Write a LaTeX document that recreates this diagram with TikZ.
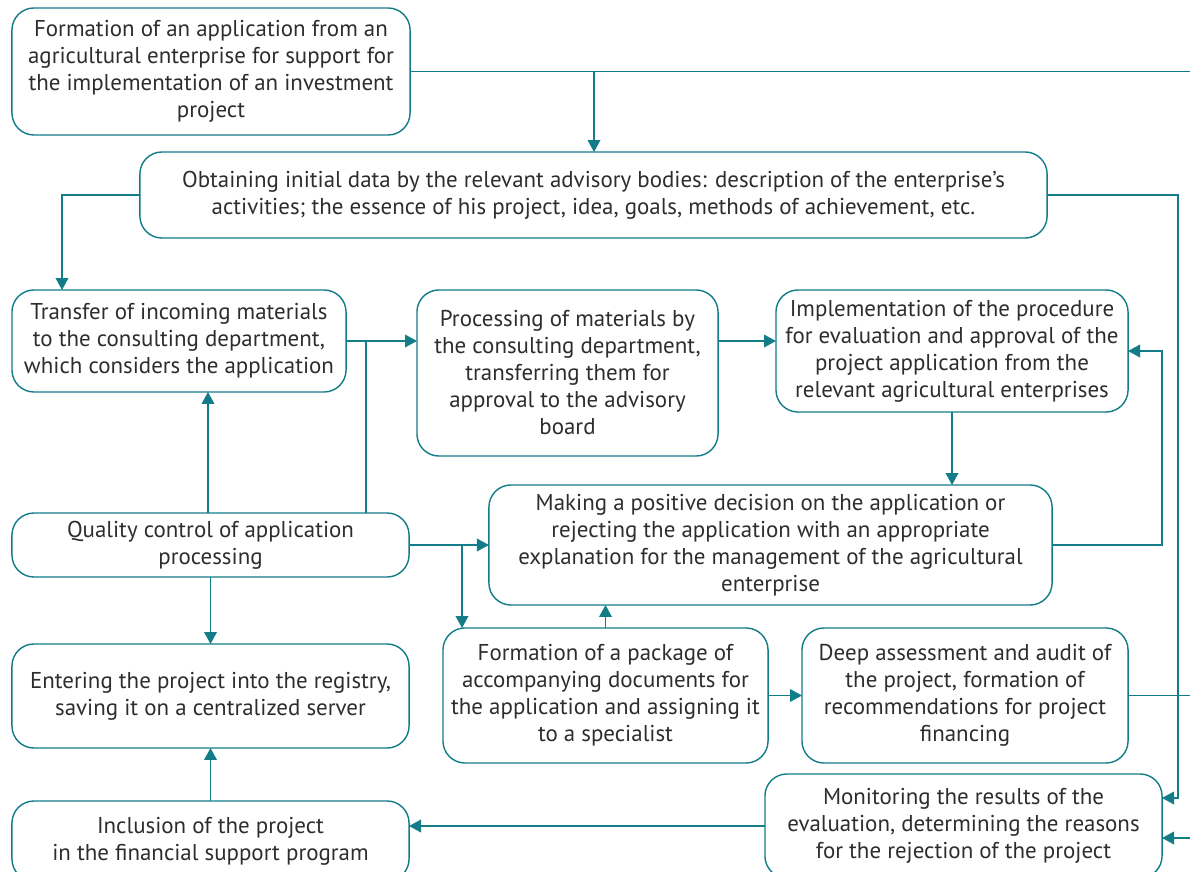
\documentclass[tikz,border=0pt]{standalone}
\usepackage{fontspec}
\setmainfont{PT Sans}
\usepackage{xcolor}
\usepackage{tikz}
\usetikzlibrary{arrows.meta, positioning, calc}

\definecolor{flowteal}{RGB}{18,124,136}
\definecolor{flowtext}{RGB}{45,45,45}

\tikzset{
    box/.style={draw=flowteal, line width=1pt, rounded corners=0.55cm, align=center,
        inner sep=2pt, outer sep=0pt, text=flowtext, font=\fontsize{16.3}{19.2}\selectfont},
    link/.style={draw=flowteal, line width=1pt},
    arr/.style={link, -{Triangle[length=8.5pt,width=9pt]}}
}

\begin{document}
\begin{tikzpicture}[x=0.025cm, y=-0.025cm]
    \useasboundingbox (0,0) rectangle (1190,872);
    \clip (0,0) rectangle (1190,872);

    % Boxes
    \node[box, minimum width=9.95cm, minimum height=3.175cm] (form) at (211,71.5)
        {Formation of an application from an\\agricultural enterprise for support for\\the implementation of an investment\\project};
    \node[box, minimum width=22.675cm, minimum height=2.15cm] (data) at (593.5,195)
        {Obtaining initial data by the relevant advisory bodies: description of the enterprise's\\activities; the essence of his project, idea, goals, methods of achievement, etc.};
    \node[box, minimum width=8.35cm, minimum height=2.55cm] (transfer) at (179,341)
        {Transfer of incoming materials\\to the consulting department,\\which considers the application};
    \node[box, minimum width=7.525cm, minimum height=4.15cm] (process) at (567.5,373)
        {Processing of materials by\\the consulting department,\\transferring them for\\approval to the advisory\\board};
    \node[box, minimum width=8.8cm, minimum height=3.05cm] (approve) at (952,351)
        {Implementation of the procedure\\for evaluation and approval of the\\project application from the\\relevant agricultural enterprises};
    \node[box, minimum width=9.925cm, minimum height=1.6cm] (quality) at (210.5,545)
        {Quality control of application\\processing};
    \node[box, minimum width=14.075cm, minimum height=3cm] (decide) at (770.5,545)
        {Making a positive decision on the application or\\rejecting the application with an appropriate\\explanation for the management of the agricultural\\enterprise};
    \node[box, minimum width=9.925cm, minimum height=2.6cm] (registry) at (210.5,696)
        {Entering the project into the registry,\\saving it on a centralized server};
    \node[box, minimum width=8.125cm, minimum height=3.375cm] (package) at (605.5,695.5)
        {Formation of a package of\\accompanying documents for\\the application and assigning it\\to a specialist};
    \node[box, minimum width=8.15cm, minimum height=3.375cm] (audit) at (965,695.5)
        {Deep assessment and audit of\\the project, formation of\\recommendations for project\\financing};
    \node[box, minimum width=9.925cm, minimum height=2cm] (include) at (210.5,841)
        {Inclusion of the project\\in the financial support program};
    \node[box, minimum width=9.925cm, minimum height=2.6cm] (monitor) at (963.5,826)
        {Monitoring the results of the\\evaluation, determining the reasons\\for the rejection of the project};

    % Junctions and free ends
    \coordinate (formEdge) at (1190,71.5);
    \coordinate (formDown) at (594,71.5);
    \coordinate (dataLeft) at (62,195);
    \coordinate (dataRight) at (1178,798);
    \coordinate (decideRight) at (1162,351);
    \coordinate (transferJoin) at (366,341);
    \coordinate (qualityJoin) at (462,545);
    \coordinate (auditEdge) at (1190,695.5);
    \coordinate (monitorEdge) at (1190,838);

    % Arrows
    \draw[link] (form.east) -- (formEdge);
    \draw[arr] (formDown) -- (formDown |- data.north);
    \draw[arr] (data.west) -- (dataLeft) -- (dataLeft |- transfer.north);
    \draw[arr] (data.east) -| (dataRight) -- (dataRight -| monitor.east);
    \draw[arr] (transfer.east) -- (transfer.east -| process.west);
    \draw[link] (quality.north -| transferJoin) -- (transferJoin);
    \draw[arr] (transfer.east -| process.east) -- (transfer.east -| approve.west);
    \draw[arr] (approve.south) -- (approve.south |- decide.north);
    \draw[arr] (decide.east) -| (decideRight) -- (approve.east);
    \draw[arr] (quality.north -| 208,0) -- (transfer.south -| 208,0);
    \draw[arr] (quality.east) -- (decide.west);
    \draw[arr] (qualityJoin) -- (qualityJoin |- package.north);
    \draw[arr] (quality.south) -- (registry.north);
    \draw[arr] (package.north) -- (package.north |- decide.south);
    \draw[arr] (package.east) -- (audit.west);
    \draw[link] (audit.east) -- (auditEdge);
    \draw[arr] (monitorEdge) -- (monitorEdge -| monitor.east);
    \draw[arr] (monitor.west) -- (monitor.west -| include.east);
    \draw[arr] (include.north) -- (registry.south);
\end{tikzpicture}
\end{document}
